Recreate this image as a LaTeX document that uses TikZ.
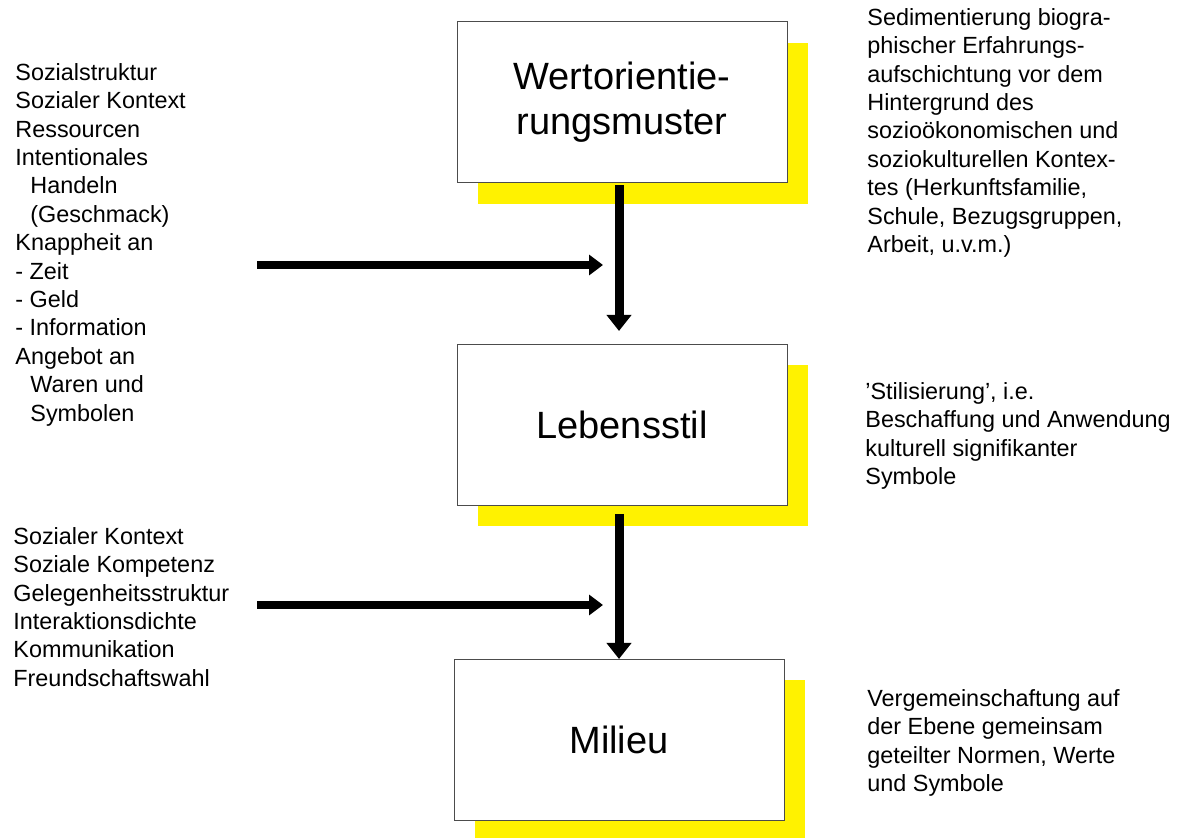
\documentclass[tikz,border=0pt]{standalone}
\usepackage{fontspec}
\setmainfont{Liberation Sans}
\usetikzlibrary{arrows.meta,shadows}
\begin{document}
\begin{tikzpicture}[x=0.5pt,y=-0.5pt,boxS/.style={draw=black!70,line width=0.5pt,fill=white,minimum width=165pt,minimum height=80.5pt,align=center,font=\fontsize{19}{22.5}\selectfont,drop shadow={fill=yellow,opacity=1,shadow xshift=10.5pt,shadow yshift=-10.5pt}},noteS/.style={anchor=north west,inner sep=0pt,align=left,font=\fontsize{11.7}{14.2}\selectfont},flowA/.style={line width=4.5pt,-{Triangle[width=12pt,length=8pt]}},inA/.style={line width=4.3pt,-{Triangle[width=10pt,length=7pt]}}]
\useasboundingbox (0,0) rectangle (1184,838);

\node[boxS] (W) at (622,102.5) {Wertorientie-\\rungsmuster};
\node[boxS] (L) at (622,425) {Lebensstil};
\node[boxS] (M) at (619,740) {Milieu};

\node[noteS] (fW) at (15,63) {Sozialstruktur\\Sozialer Kontext\\Ressourcen\\Intentionales\\\hspace*{7.5pt}Handeln\\\hspace*{7.5pt}(Geschmack)\\Knappheit an\\- Zeit\\- Geld\\- Information\\Angebot an\\\hspace*{7.5pt}Waren und\\\hspace*{7.5pt}Symbolen};
\node[noteS] (fL) at (13,527) {Sozialer Kontext\\Soziale Kompetenz\\Gelegenheitsstruktur\\Interaktionsdichte\\Kommunikation\\Freundschaftswahl};

\node[noteS] (nW) at (867,8) {Sedimentierung biogra-\\phischer Erfahrungs-\\aufschichtung vor dem\\Hintergrund des\\sozioökonomischen und\\soziokulturellen Kontex-\\tes (Herkunftsfamilie,\\Schule, Bezugsgruppen,\\Arbeit, u.v.m.)};
\node[noteS] (nL) at (865,382) {'Stilisierung', i.e.\\Beschaffung und Anwendung\\kulturell signifikanter\\Symbole};
\node[noteS] (nM) at (867,689) {Vergemeinschaftung auf\\der Ebene gemeinsam\\geteilter Normen, Werte\\und Symbole};

\coordinate (s1) at (257,265);
\coordinate (e1) at (603,265);
\coordinate (s2) at (257,605);
\coordinate (e2) at (603,605);

\draw[flowA,shorten <=1pt,shorten >=6.5pt] (W.south -| M.north) -- (L.north -| M.north);
\draw[flowA,shorten <=4pt] (L.south -| M.north) -- (M.north);
\draw[inA] (s1) -- (e1);
\draw[inA] (s2) -- (e2);
\end{tikzpicture}
\end{document}
